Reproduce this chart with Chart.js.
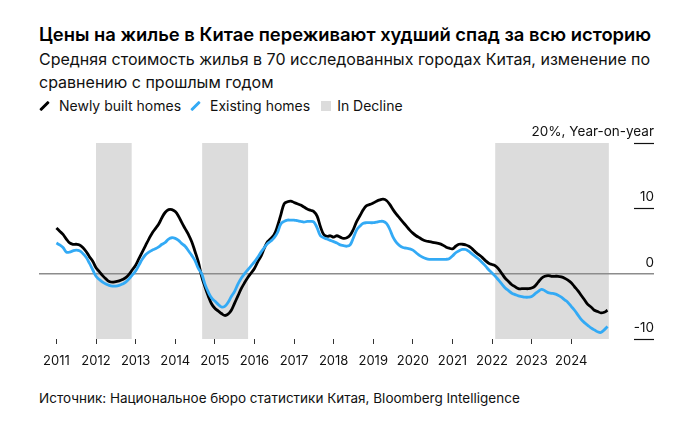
<!DOCTYPE html>
<html>
<head>
<meta charset="utf-8">
<script src="https://cdn.jsdelivr.net/npm/chart.js@4"></script>
<style>
  html, body { margin: 0; padding: 0; background: #fff; }
  body { width: 689px; height: 431px; position: relative; overflow: hidden;
         font-family: Inter, "Liberation Sans", Arial, sans-serif; color: #111; }
  .txt { position: absolute; left: 39px; white-space: nowrap; }
  #title { top: 23px; font-size: 18.4px; line-height: 22px; font-weight: 600; color: #000; }
  #subtitle { top: 48px; font-size: 16px; line-height: 22.7px; }
  #legend { top: 97px; font-size: 14px; line-height: 18px; display: flex; align-items: center; }
  #legend .item { display: flex; align-items: center; margin-right: 9px; }
  #legend .stroke { width: 3px; height: 12px; border-radius: 1px; transform: rotate(45deg); margin: 0 13px 0 4px; }
  #legend .box { width: 10px; height: 10px; background: #dcdcdc; margin: 0 6px 0 2px; }
  #source { top: 390px; font-size: 13.5px; line-height: 16px; }
  #wrap { position: absolute; left: 0; top: 120px; width: 689px; height: 260px; }
</style>
</head>
<body>
<div id="title" class="txt">Цены на жилье в Китае переживают худший спад за всю историю</div>
<div id="subtitle" class="txt">Средняя стоимость жилья в 70 исследованных городах Китая, изменение по<br>сравнению с прошлым годом</div>
<div id="legend" class="txt">
  <span class="item"><span class="stroke" style="background:#000"></span>Newly built homes</span>
  <span class="item"><span class="stroke" style="background:#33aaf5"></span>Existing homes</span>
  <span class="item"><span class="box"></span>In Decline</span>
</div>
<div id="wrap"><canvas id="chart"></canvas></div>
<div id="source" class="txt">Источник: Национальное бюро статистики Китая, Bloomberg Intelligence</div>

<script>
// monthly values, Jan 2011 .. Dec 2024, % year-on-year
const firstYear = 2011;
const newHomes = [
  7.0, 6.5, 6.0, 5.3, 4.7, 4.5, 4.5, 4.4, 4.0, 3.4, 2.6, 1.9,
  0.9, 0.3, -0.3, -0.8, -1.2, -1.3, -1.2, -1.1, -0.9, -0.6, -0.1, 0.6,
  1.3, 2.3, 3.3, 4.3, 5.3, 6.2, 6.9, 7.6, 8.6, 9.4, 9.8, 9.8,
  9.5, 8.8, 7.8, 6.9, 6.0, 4.9, 3.4, 1.8, -0.4, -2.0, -3.4, -4.6,
  -5.3, -5.7, -6.1, -6.4, -6.2, -5.6, -4.5, -3.4, -2.3, -1.4, -0.6, 0.1,
  0.8, 1.8, 2.7, 3.9, 4.9, 5.4, 6.0, 7.3, 9.0, 10.7, 11.0, 11.1,
  10.9, 10.7, 10.5, 10.2, 9.9, 9.7, 9.5, 8.8, 7.2, 6.0, 5.7, 5.8,
  5.6, 5.8, 5.6, 5.4, 5.5, 5.9, 6.8, 8.0, 8.9, 9.8, 10.4, 10.6,
  10.8, 11.1, 11.3, 11.4, 11.2, 10.6, 9.8, 9.1, 8.5, 7.9, 7.3, 6.7,
  6.2, 5.8, 5.5, 5.2, 5.0, 4.9, 4.8, 4.7, 4.6, 4.4, 4.1, 3.9,
  3.8, 4.2, 4.5, 4.5, 4.4, 4.2, 3.8, 3.3, 2.9, 2.5, 2.0, 1.6,
  1.4, 1.2, 0.7, 0.0, -0.7, -1.2, -1.7, -2.0, -2.3, -2.3, -2.3, -2.3,
  -2.2, -1.9, -1.3, -0.7, -0.4, -0.3, -0.4, -0.4, -0.4, -0.5, -0.7, -1.0,
  -1.4, -2.0, -2.6, -3.3, -4.0, -4.7, -5.1, -5.6, -5.8, -6.0, -5.9, -5.6
];
const existingHomes = [
  4.7, 4.4, 4.0, 3.3, 3.3, 3.5, 3.6, 3.5, 3.1, 2.5, 1.6, 0.6,
  -0.4, -0.9, -1.3, -1.6, -1.8, -1.9, -1.9, -1.8, -1.6, -1.3, -0.8, -0.2,
  0.4, 1.3, 2.2, 2.9, 3.3, 3.6, 3.8, 4.1, 4.5, 4.8, 5.3, 5.5,
  5.4, 5.1, 4.6, 4.2, 3.5, 2.8, 2.0, 0.8, 0.0, -1.6, -2.8, -3.7,
  -4.2, -4.7, -5.1, -5.0, -4.4, -3.5, -2.7, -1.6, -0.7, 0.0, 0.6, 1.2,
  1.8, 2.5, 3.3, 4.0, 4.6, 5.0, 5.5, 6.3, 7.6, 8.0, 8.2, 8.2,
  8.2, 8.1, 8.0, 7.9, 8.0, 8.0, 7.9, 7.0, 5.8, 5.5, 5.3, 5.1,
  4.9, 4.7, 4.4, 4.3, 4.2, 4.4, 5.5, 6.7, 7.3, 7.7, 7.8, 7.8,
  7.8, 7.9, 8.0, 8.0, 7.7, 6.8, 5.6, 4.8, 4.3, 4.0, 3.9, 3.8,
  3.6, 3.2, 2.8, 2.5, 2.3, 2.2, 2.2, 2.2, 2.2, 2.2, 2.2, 2.3,
  2.7, 3.2, 3.5, 3.7, 3.7, 3.4, 3.0, 2.6, 2.2, 1.7, 1.2, 0.6,
  0.1, -0.4, -1.0, -1.6, -2.2, -2.6, -3.0, -3.2, -3.4, -3.5, -3.6, -3.6,
  -3.5, -3.1, -2.7, -2.4, -2.6, -2.9, -3.0, -3.1, -3.3, -3.6, -4.0, -4.4,
  -5.0, -5.6, -6.3, -7.0, -7.5, -7.9, -8.3, -8.6, -8.9, -9.0, -8.6, -8.1
];
// shaded decline periods (start, end) in years
const declineStart = [2012.0, 2014.68, 2022.08];
const declineEnd = [2012.9, 2015.84, 2024.95];
const yearTicks = [2011, 2012, 2013, 2014, 2015, 2016, 2017, 2018, 2019, 2020, 2021, 2022, 2023, 2024];
const yTicks = [-10, 0, 10, 20];
const yTickLabels = ['-10', '0', '10', '20%, Year-on-year'];

const FONT = 'Inter, "Liberation Sans", Arial, sans-serif';

function toPoints(values) {
  return values.map((v, i) => ({ x: firstYear + i / 12, y: v }));
}

const bandsAndAxis = {
  id: 'bandsAndAxis',
  beforeDatasetsDraw(chart) {
    const { ctx, chartArea, scales } = chart;
    const x = scales.x, y = scales.y;
    ctx.save();
    ctx.fillStyle = '#dcdcdc';
    for (let i = 0; i < declineStart.length; i++) {
      const x0 = x.getPixelForValue(declineStart[i]);
      const x1 = x.getPixelForValue(declineEnd[i]);
      const yTop = y.getPixelForValue(20);
      const yBot = y.getPixelForValue(-10);
      ctx.fillRect(x0, yTop, x1 - x0, yBot - yTop);
    }
    // zero line
    const y0 = y.getPixelForValue(0);
    ctx.strokeStyle = '#8c8c8c';
    ctx.lineWidth = 1.5;
    ctx.beginPath();
    ctx.moveTo(chartArea.left, y0);
    ctx.lineTo(chartArea.right, y0);
    ctx.stroke();
    ctx.restore();
  },
  afterDraw(chart) {
    const { ctx, chartArea, scales } = chart;
    const y = scales.y;
    ctx.save();
    ctx.font = '13.5px ' + FONT;
    ctx.textAlign = 'right';
    ctx.textBaseline = 'alphabetic';
    yTicks.forEach((t, i) => {
      const py = Math.round(y.getPixelForValue(t)) + 0.5;
      if (t !== 0) {
        ctx.strokeStyle = '#111';
        ctx.lineWidth = 1.2;
        ctx.beginPath();
        ctx.moveTo(chartArea.right - 20, py);
        ctx.lineTo(chartArea.right, py);
        ctx.stroke();
      }
      ctx.fillStyle = '#111';
      ctx.fillText(yTickLabels[i], chartArea.right, py - 8);
    });
    ctx.restore();
  }
};

new Chart(document.getElementById('chart'), {
  type: 'line',
  data: {
    datasets: [
      {
        label: 'Existing homes',
        data: toPoints(existingHomes),
        borderColor: '#33aaf5',
        borderWidth: 2.8,
        pointRadius: 0,
        tension: 0.4
      },
      {
        label: 'Newly built homes',
        data: toPoints(newHomes),
        borderColor: '#000',
        borderWidth: 2.8,
        pointRadius: 0,
        tension: 0.4
      }
    ]
  },
  options: {
    responsive: true,
    maintainAspectRatio: false,
    animation: false,
    layout: { padding: { left: 39, right: 35, top: 23, bottom: 0 } },
    plugins: { legend: { display: false }, tooltip: { enabled: false } },
    scales: {
      x: {
        type: 'linear',
        min: 2010.56,
        max: 2026.09,
        afterBuildTicks: (s) => { s.ticks = yearTicks.map(v => ({ value: v })); },
        afterFit: (s) => { s.height = 41; },
        grid: { drawOnChartArea: false, drawTicks: true, tickLength: 5, color: '#333', lineWidth: 1 },
        border: { display: false },
        ticks: {
          color: '#111',
          font: { family: FONT, size: 13 },
          padding: 9,
          maxRotation: 0,
          autoSkip: false,
          callback: (v) => String(v)
        }
      },
      y: {
        display: false,
        min: -10,
        max: 20
      }
    }
  },
  plugins: [bandsAndAxis]
});
</script>
</body>
</html>
